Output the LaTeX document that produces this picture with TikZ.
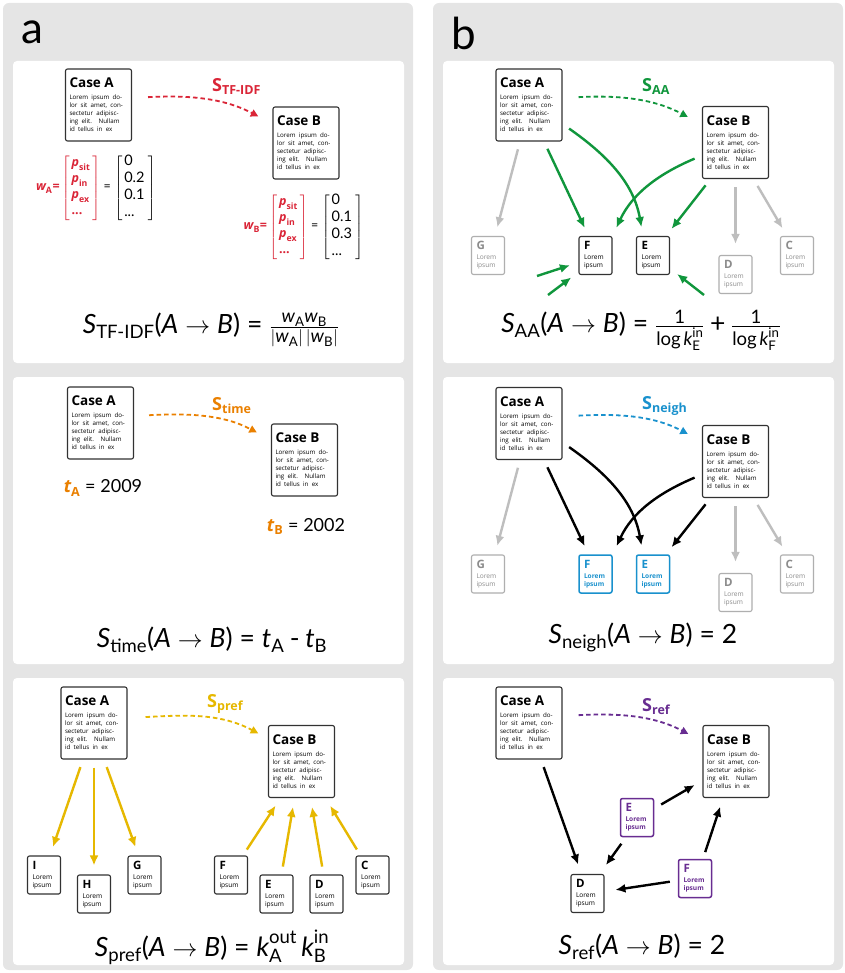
\documentclass[tikz,border=0pt]{standalone}
\usepackage{fontspec}
\usepackage{amsmath}
\setmainfont{Open Sans}
\newfontfamily\formfont{Lato}
\usetikzlibrary{arrows.meta}

\definecolor{panelgrey}{RGB}{229,229,229}
\definecolor{boxline}{RGB}{50,50,50}
\definecolor{leafgrey}{RGB}{175,175,175}
\definecolor{leaftext}{RGB}{140,140,140}
\definecolor{arrowgrey}{RGB}{190,190,190}
\definecolor{tfred}{RGB}{218,37,55}
\definecolor{timeor}{RGB}{234,128,0}
\definecolor{prefyellow}{RGB}{230,184,0}
\definecolor{aagreen}{RGB}{16,150,60}
\definecolor{neighblue}{RGB}{25,145,205}
\definecolor{refpurple}{RGB}{104,45,145}

% formula letters
\newcommand{\fv}[1]{\text{\formfont\itshape #1}}
\newcommand{\fr}[1]{\text{\formfont #1}}
\newcommand{\fval}[1]{\text{\formfont\fontsize{14.5}{16}\selectfont #1}}
\newcommand{\feq}{\mathrel{\fr{=}}}
\newcommand{\bvar}[2]{\text{\bfseries\itshape #1}_{\text{\bfseries #2}}}
\newcommand{\simlbl}[1]{{\fontsize{18}{18}\selectfont S}\raisebox{-3pt}{\fontsize{12.5}{13}\selectfont #1}}
% box contents
\newcommand{\casetext}[1]{{\fontsize{13.5}{15}\selectfont\bfseries Case #1\par}\vspace{4pt}%
  {\fontsize{6.2}{8}\selectfont\mbox{Lorem ipsum do-}\\\mbox{lor sit amet, con-}\\\mbox{sectetur adipisc-}\\\mbox{ing elit.\ \ Nullam}\\\mbox{id tellus in ex}\par}}
\newcommand{\leaftext}[1]{{\fontsize{11.5}{13}\selectfont\bfseries #1\par}\vspace{2pt}%
  {\fontsize{6.6}{8}\selectfont Lorem\\ipsum\par}}

\tikzset{
  casebox/.style={draw=boxline, line width=1.1pt, rounded corners=2pt, fill=white, text width=58pt, inner xsep=4pt, inner ysep=0pt, minimum height=72pt, align=left},
  leafbox/.style={draw=boxline, line width=1.1pt, rounded corners=2pt, fill=white, text width=23pt, inner xsep=5pt, inner ysep=0pt, minimum height=38pt, align=left},
  greybox/.style={leafbox, draw=leafgrey, text=leaftext},
  bluebox/.style={leafbox, draw=neighblue, text=neighblue, line width=1.5pt, font=\bfseries},
  purplebox/.style={leafbox, draw=refpurple, text=refpurple, line width=1.5pt, font=\bfseries},
  simlabel/.style={anchor=base west, font=\bfseries, inner sep=0pt},
  simarrow/.style={line width=1.8pt, dash pattern=on 4.5pt off 3pt, -{Triangle[length=7.5pt,width=7.5pt]}},
  link/.style={line width=2.4pt, -{Latex[length=10pt,width=9pt]}, shorten <=8pt, shorten >=9pt},
  formula/.style={font=\formfont\fontsize{26.5}{30}\selectfont},
  vecnode/.style={font=\fontsize{12.5}{15}\selectfont},
}

\begin{document}
\begin{tikzpicture}[x=1pt,y=-1pt]
	\useasboundingbox (0,0) rectangle (844,973);
	% panels
	\fill[panelgrey, rounded corners=6pt] (3,3) rectangle (413,970);
	\fill[panelgrey, rounded corners=6pt] (433,3) rectangle (843,970);
	\fill[white, rounded corners=4pt] (13,61) rectangle (404,363);
	\fill[white, rounded corners=4pt] (13,377) rectangle (404,664);
	\fill[white, rounded corners=4pt] (13,678) rectangle (404,965);
	\fill[white, rounded corners=4pt] (443,61) rectangle (834,363);
	\fill[white, rounded corners=4pt] (443,377) rectangle (834,664);
	\fill[white, rounded corners=4pt] (443,678) rectangle (834,965);
	\node[anchor=base west, font=\formfont\fontsize{44}{44}\selectfont, inner sep=0pt] (lbla) at (21,44) {a};
	\node[anchor=base west, font=\formfont\fontsize{44}{44}\selectfont, inner sep=0pt] (lblb) at (451,50) {b};

	% a: TF-IDF
	\node[casebox] (A1) at (98.5,105) {\casetext{A}};
	\node[casebox] (B1) at (306,143) {\casetext{B}};
	\draw[simarrow, tfred, shorten <=16pt, shorten >=16pt] ([yshift=7pt]A1.east) to[out=3,in=152] ([yshift=19pt]B1.west);
	\node[simlabel, text=tfred] (sTF) at (212,92) {\simlbl{TF-IDF}};
	\node[vecnode] (wA) at (96,188) {$\color{tfred}\bvar{w}{A}\text{\bfseries =}\left[\begin{array}{@{\,}l@{\,}}\bvar{p}{sit}\\[1pt]\bvar{p}{in}\\[1pt]\bvar{p}{ex}\\[1pt]\text{\bfseries...}\end{array}\right]\color{black}\mathrel{\fr{=}}\left[\begin{array}{@{\,}l@{\;}}\fval{0}\\[2pt]\fval{0.2}\\[2pt]\fval{0.1}\\[2pt]\fval{...}\end{array}\right]$};
	\node[vecnode] (wB) at (303.5,227) {$\color{tfred}\bvar{w}{B}\text{\bfseries =}\left[\begin{array}{@{\,}l@{\,}}\bvar{p}{sit}\\[1pt]\bvar{p}{in}\\[1pt]\bvar{p}{ex}\\[1pt]\text{\bfseries...}\end{array}\right]\color{black}\mathrel{\fr{=}}\left[\begin{array}{@{\,}l@{\;}}\fval{0}\\[2pt]\fval{0.1}\\[2pt]\fval{0.3}\\[2pt]\fval{...}\end{array}\right]$};
	\node[formula] (fTF) at (211,330) {$\fv{S}_{\fr{TF-IDF}}\fr{(}\fv{A}\rightarrow\fv{B}\fr{)}\feq\frac{\fv{w}_{\fr{A}}\fv{w}_{\fr{B}}}{|\fv{w}_{\fr{A}}|\,|\fv{w}_{\fr{B}}|}$};

	% a: time
	\node[casebox] (A2) at (100.5,423) {\casetext{A}};
	\node[casebox] (B2) at (304.5,460) {\casetext{B}};
	\draw[simarrow, timeor, shorten <=15pt, shorten >=16pt] ([yshift=7pt]A2.east) to[out=3,in=152] ([yshift=20pt]B2.west);
	\node[simlabel, text=timeor] (sTime) at (212,410) {\simlbl{time}};
	\node (tA) at (103,488) {\fontsize{18}{20}\selectfont$\color{timeor}\bvar{t}{A}\color{black}\feq\fr{2009}$};
	\node (tB) at (306,526) {\fontsize{18}{20}\selectfont$\color{timeor}\bvar{t}{B}\color{black}\feq\fr{2002}$};
	\node[formula] (fTime) at (212,640) {$\fv{S}_{\fr{time}}\fr{(}\fv{A}\rightarrow\fv{B}\fr{)}\feq\fv{t}_{\fr{A}}\mathbin{\fr{-}}\fv{t}_{\fr{B}}$};

	% a: pref
	\node[casebox] (A3) at (94,723) {\casetext{A}};
	\node[casebox] (B3) at (301.5,761.5) {\casetext{B}};
	\node[leafbox] (I3) at (44,875) {\leaftext{I}};
	\node[leafbox] (H3) at (94,894) {\leaftext{H}};
	\node[leafbox] (G3) at (144.5,875) {\leaftext{G}};
	\node[leafbox] (F3) at (231,875) {\leaftext{F}};
	\node[leafbox] (E3) at (276.5,894) {\leaftext{E}};
	\node[leafbox] (D3) at (326.5,894) {\leaftext{D}};
	\node[leafbox] (C3) at (372.5,875) {\leaftext{C}};
	\draw[simarrow, prefyellow, shorten <=18pt, shorten >=11pt] ([yshift=5pt]A3.east) to[out=3,in=152] ([yshift=23pt]B3.west);
	\node[simlabel, text=prefyellow] (sPref) at (207,707) {\simlbl{pref}};
	\draw[link, prefyellow] ([xshift=-11pt]A3.south) -- ([xshift=6pt]I3.north);
	\draw[link, prefyellow] (A3.south) -- (H3.north);
	\draw[link, prefyellow] ([xshift=10pt]A3.south) -- ([xshift=-6pt]G3.north);
	\draw[link, prefyellow, shorten <=7pt] ([xshift=12pt]F3.north) -- ([xshift=-21pt]B3.south);
	\draw[link, prefyellow] ([xshift=5pt]E3.north) -- ([xshift=-7pt]B3.south);
	\draw[link, prefyellow] ([xshift=-3pt]D3.north) -- ([xshift=9pt]B3.south);
	\draw[link, prefyellow, shorten <=7pt] ([xshift=-12pt]C3.north) -- ([xshift=24pt]B3.south);
	\node[formula] (fPref) at (212,947) {$\fv{S}_{\fr{pref}}\fr{(}\fv{A}\rightarrow\fv{B}\fr{)}\feq\fv{k}^{\fr{out}}_{\fr{A}}\,\fv{k}^{\fr{in}}_{\fr{B}}$};

	% b: AA
	\node[casebox] (A4) at (529,105) {\casetext{A}};
	\node[casebox] (B4) at (735.5,142.5) {\casetext{B}};
	\node[greybox] (G4) at (488,255.5) {\leaftext{G}};
	\node[leafbox] (F4) at (595.5,255.5) {\leaftext{F}};
	\node[leafbox] (E4) at (653,255.5) {\leaftext{E}};
	\node[greybox] (D4) at (735.5,274.5) {\leaftext{D}};
	\node[greybox] (C4) at (797,255.5) {\leaftext{C}};
	\draw[simarrow, aagreen, shorten <=16pt, shorten >=16pt] ([yshift=7pt]A4.east) to[out=3,in=152] ([yshift=18pt]B4.west);
	\node[simlabel, text=aagreen] (sAA) at (642,92) {\simlbl{AA}};
	\draw[link, arrowgrey] ([xshift=-9pt]A4.south) -- ([xshift=7pt]G4.north);
	\draw[link, arrowgrey, shorten >=11pt] (B4.south) -- (D4.north);
	\draw[link, arrowgrey] ([xshift=18pt]B4.south) -- ([xshift=-10pt]C4.north);
	\draw[link, aagreen] ([xshift=15pt]A4.south) -- ([xshift=-7pt]F4.north);
	\draw[link, aagreen] ([yshift=-19pt]A4.east) to[out=-35,in=100] ([xshift=-10pt]E4.north);
	\draw[link, aagreen] ([yshift=-13pt]B4.west) to[out=203,in=65] (F4.north east);
	\draw[link, aagreen] ([xshift=-25pt]B4.south) -- ([xshift=13pt]E4.north);
	\coordinate (inF1) at (537,276);
	\coordinate (inF2) at (548,295);
	\coordinate (inE1) at (704,295);
	\draw[link, aagreen, shorten <=0pt] (inF1) -- ([yshift=-7pt]F4.west);
	\draw[link, aagreen, shorten <=0pt] (inF2) -- ([yshift=3pt]F4.south west);
	\draw[link, aagreen, shorten <=0pt] (inE1) -- ([yshift=-13pt]E4.east);
	\node[formula] (fAA) at (641,330) {$\fv{S}_{\fr{AA}}\fr{(}\fv{A}\rightarrow\fv{B}\fr{)}\feq\frac{\fr{1}}{\fr{log}\,\fv{k}^{\fr{in}}_{\fr{E}}}\mathbin{\fr{+}}\frac{\fr{1}}{\fr{log}\,\fv{k}^{\fr{in}}_{\fr{F}}}$};

	% b: neigh
	\node[casebox] (A5) at (529,423.5) {\casetext{A}};
	\node[casebox] (B5) at (735.5,461.5) {\casetext{B}};
	\node[greybox] (G5) at (488,574) {\leaftext{G}};
	\node[bluebox] (F5) at (595.5,574) {\leaftext{F}};
	\node[bluebox] (E5) at (653,574) {\leaftext{E}};
	\node[greybox] (D5) at (735.5,592.5) {\leaftext{D}};
	\node[greybox] (C5) at (797,574) {\leaftext{C}};
	\draw[simarrow, neighblue, shorten <=16pt, shorten >=16pt] ([yshift=7pt]A5.east) to[out=3,in=152] ([yshift=20pt]B5.west);
	\node[simlabel, text=neighblue] (sNeigh) at (642,409) {\simlbl{neigh}};
	\draw[link, arrowgrey] ([xshift=-9pt]A5.south) -- ([xshift=7pt]G5.north);
	\draw[link, arrowgrey, shorten >=11pt] (B5.south) -- (D5.north);
	\draw[link, arrowgrey] ([xshift=18pt]B5.south) -- ([xshift=-10pt]C5.north);
	\draw[link, black] ([xshift=15pt]A5.south) -- ([xshift=-7pt]F5.north);
	\draw[link, black] ([yshift=-19pt]A5.east) to[out=-35,in=100] ([xshift=-10pt]E5.north);
	\draw[link, black] ([yshift=-13pt]B5.west) to[out=203,in=65] (F5.north east);
	\draw[link, black] ([xshift=-25pt]B5.south) -- ([xshift=13pt]E5.north);
	\node[formula] (fNeigh) at (643,637) {$\fv{S}_{\fr{neigh}}\fr{(}\fv{A}\rightarrow\fv{B}\fr{)}\feq\fr{2}$};

	% b: ref
	\node[casebox] (A6) at (529,723) {\casetext{A}};
	\node[casebox] (B6) at (736,761.5) {\casetext{B}};
	\node[purplebox] (E6) at (637,817.5) {\leaftext{E}};
	\node[purplebox] (F6) at (695,878.5) {\leaftext{F}};
	\node[leafbox] (D6) at (587.5,893.5) {\leaftext{D}};
	\draw[simarrow, refpurple, shorten <=16pt, shorten >=16pt] ([yshift=7pt]A6.east) to[out=3,in=152] ([yshift=20pt]B6.west);
	\node[simlabel, text=refpurple] (sRef) at (642,711) {\simlbl{ref}};
	\draw[link, black, shorten >=10pt] ([xshift=12pt]A6.south) -- ([xshift=-6pt]D6.north);
	\draw[link, black] ([yshift=9pt]E6.east) -- ([yshift=-19pt]B6.west);
	\draw[link, black, shorten >=11pt] ([xshift=-11pt]E6.south) -- ([xshift=12pt]D6.north);
	\draw[link, black, shorten <=7pt] ([xshift=8pt]F6.north) -- ([xshift=-13pt]B6.south);
	\draw[link, black, shorten >=11pt] ([yshift=-2pt]F6.west) -- ([yshift=2pt]D6.east);
	\node[formula] (fRef) at (642,947) {$\fv{S}_{\fr{ref}}\fr{(}\fv{A}\rightarrow\fv{B}\fr{)}\feq\fr{2}$};
\end{tikzpicture}
\end{document}
